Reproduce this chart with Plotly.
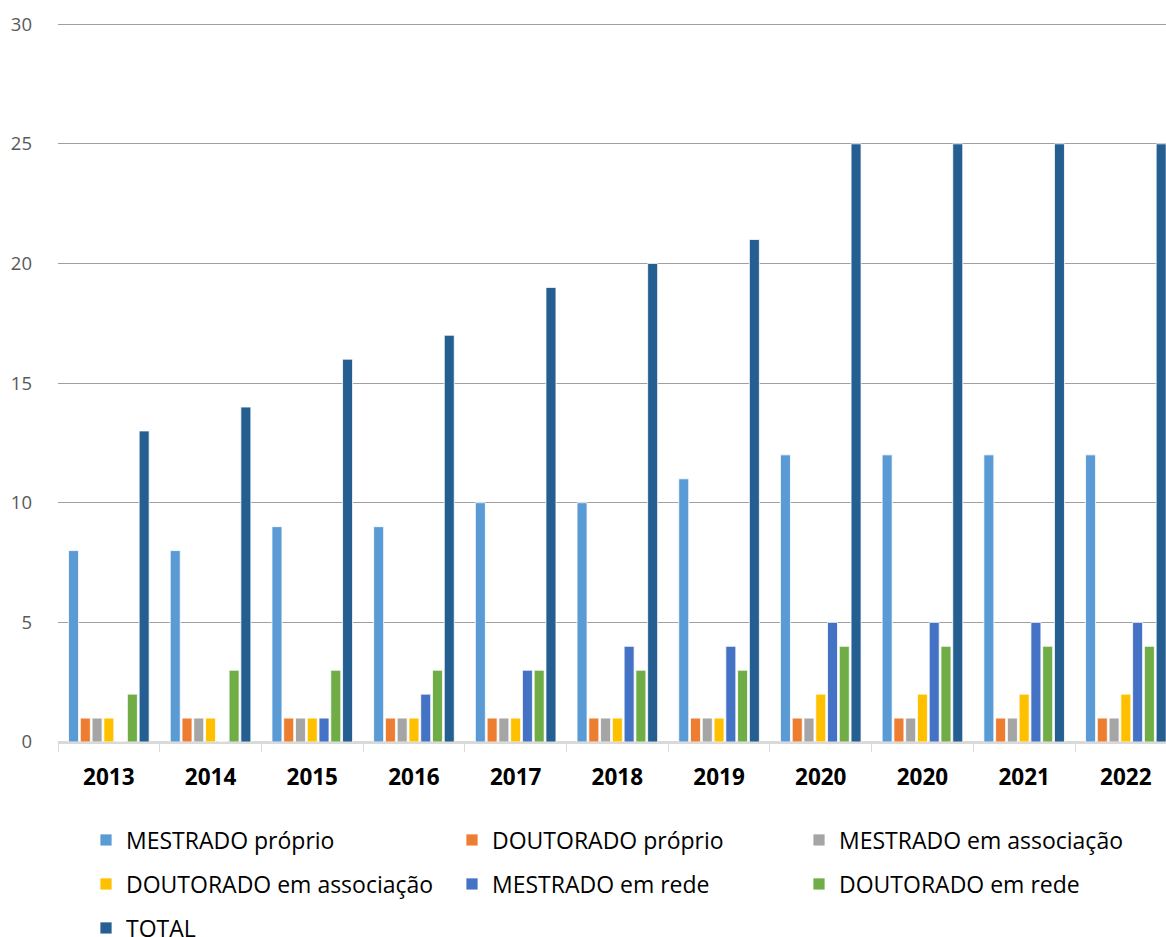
import plotly.graph_objects as go

years = ["2013", "2014", "2015", "2016", "2017", "2018", "2019", "2020", "2020", "2021", "2022"]
series_names = ["MESTRADO próprio", "DOUTORADO próprio", "MESTRADO em associação",
                "DOUTORADO em associação", "MESTRADO em rede", "DOUTORADO em rede", "TOTAL"]
mestrado_proprio = [8, 8, 9, 9, 10, 10, 11, 12, 12, 12, 12]
doutorado_proprio = [1, 1, 1, 1, 1, 1, 1, 1, 1, 1, 1]
mestrado_assoc = [1, 1, 1, 1, 1, 1, 1, 1, 1, 1, 1]
doutorado_assoc = [1, 1, 1, 1, 1, 1, 1, 2, 2, 2, 2]
mestrado_rede = [0, 0, 1, 2, 3, 4, 4, 5, 5, 5, 5]
doutorado_rede = [2, 3, 3, 3, 3, 3, 3, 4, 4, 4, 4]
total = [13, 14, 16, 17, 19, 20, 21, 25, 25, 25, 25]
y_ticks = [0, 5, 10, 15, 20, 25, 30]

values = [mestrado_proprio, doutorado_proprio, mestrado_assoc, doutorado_assoc,
          mestrado_rede, doutorado_rede, total]
colors = ["#5B9BD5", "#ED7D31", "#A5A5A5", "#FFC000", "#4472C4", "#70AD47", "#255E91"]

FONT = "'Open Sans', sans-serif"
x_idx = [str(i) for i in range(len(years))]

W, H = 1166, 937
left, bottom = 58, 195
y_top_val = 30.3
px_per_unit = 718 / 30
top = round(H - bottom - y_top_val * px_per_unit)
right_edge = 1166
cat_w = 101.7
xmax = -0.5 + (right_edge - left) / cat_w

# legend grid: 3 columns x 3 rows (pixel positions)
col_x = [86, 452, 799]
row_y = [840, 884, 928]

fig = go.Figure()
legend_layouts = {}
for i, (name, vals, col) in enumerate(zip(series_names, values, colors)):
    lid = "legend" if i == 0 else f"legend{i + 1}"
    fig.add_trace(go.Bar(
        x=x_idx, y=vals, name=name, legend=lid, showlegend=True,
        marker=dict(color=col, line=dict(color="white", width=0.8)),
    ))
    legend_layouts[lid] = dict(
        orientation="h", xanchor="left", yanchor="middle",
        xref="container", yref="container",
        x=col_x[i % 3] / W, y=(H - row_y[i // 3]) / H,
        font=dict(family=FONT, size=23, color="#000000"),
        bgcolor="rgba(0,0,0,0)", visible=True,
    )

fig.update_layout(
    width=W, height=H, showlegend=True,
    margin=dict(l=left, r=0, t=top, b=bottom, autoexpand=False),
    plot_bgcolor="white", paper_bgcolor="white",
    barmode="group", bargap=0.19, bargroupgap=0.15,
    font=dict(family=FONT),
    xaxis=dict(type="category", range=[-0.5, xmax],
               tickvals=x_idx, ticktext=years, tickson="boundaries",
               ticks="outside", ticklen=8, tickcolor="#D9D9D9",
               showline=True, linecolor="#D9D9D9", linewidth=1.5,
               tickfont=dict(family=FONT, size=22.5, color="#000000", weight="bold"),
               ticklabelstandoff=14, showgrid=False),
    yaxis=dict(range=[0, y_top_val], tickvals=y_ticks,
               showgrid=True, gridcolor="#A0A0A0", gridwidth=1,
               zeroline=True, zerolinecolor="#D9D9D9", zerolinewidth=1.5,
               tickfont=dict(family=FONT, size=18.5, color="#595959"),
               ticks="", ticklabelstandoff=25),
    **legend_layouts,
)

fig.write_html("out.html", config={"displayModeBar": False},
               post_script="document.body.style.margin='0';")
